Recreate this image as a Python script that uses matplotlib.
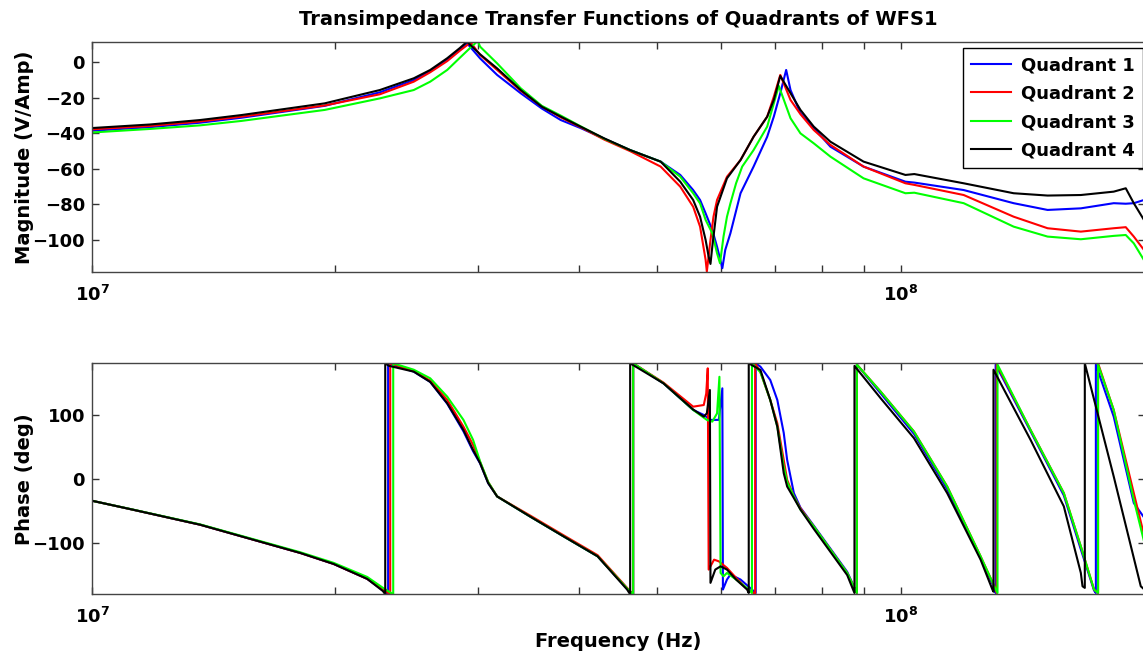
import numpy as np
import matplotlib
matplotlib.use("Agg")
import matplotlib.pyplot as plt
from matplotlib.ticker import FixedLocator, NullFormatter, FixedFormatter

plt.rcParams['font.family'] = ['DejaVu Sans']
plt.rcParams['font.weight'] = 'bold'
plt.rcParams['mathtext.fontset'] = 'dejavusans'

labels = ["Quadrant 1", "Quadrant 2", "Quadrant 3", "Quadrant 4"]
colors = ["#0000ff", "#ff0000", "#00ff00", "#000000"]

# ---------------- Magnitude data (frequency in MHz, magnitude in dB) -------------
mag_f_q1 = [10.0, 11.8, 13.6, 15.3, 19.4, 22.7, 25.0, 26.2, 27.5, 28.5, 29.1, 30.2, 31.7, 33.9, 36.0, 38.0,
            40.2, 43.0, 46.3, 50.5, 53.4, 55.4, 56.5, 57.4, 58.5, 59.3, 60.2, 60.7, 61.6, 63.4, 65.8, 68.4,
            69.7, 71.0, 72.2, 73.1, 75.2, 78.1, 81.9, 90.0, 101.4, 104.0, 119.7, 138.0, 152.0, 167.1,
            183.5, 189.9, 194.3, 200.0]
mag_q1 = [-38.5, -36.5, -34.0, -31.2, -24.5, -16.9, -10.0, -5.0, 1.5, 7.0, 10.7, 2.2, -7.1, -17.4, -26.0, -32.5,
          -37.0, -43.0, -49.4, -55.9, -63.4, -71.9, -77.5, -85.0, -94.4, -103.8, -115.9, -105.6, -96.2, -73.7,
          -58.7, -41.9, -30.6, -17.4, -4.3, -15.6, -28.7, -37.0, -47.5, -58.7, -67.2, -67.7, -71.9, -79.3,
          -83.1, -82.2, -79.3, -79.6, -79.3, -77.5]

mag_f_q2 = [10.0, 11.8, 13.6, 15.3, 19.4, 22.7, 25.0, 26.2, 27.5, 28.5, 29.4, 30.2, 31.7, 33.9, 36.0, 38.0,
            40.2, 43.0, 46.3, 50.5, 53.4, 55.4, 56.5, 57.4, 57.6, 58.2, 58.7, 59.3, 61.0, 63.4, 65.8, 68.4,
            69.7, 71.0, 73.1, 75.2, 78.1, 81.9, 90.0, 101.4, 104.0, 119.7, 138.0, 152.0, 167.1, 183.5,
            189.9, 194.3, 200.0]
mag_q2 = [-37.7, -35.8, -33.3, -30.6, -24.3, -18.0, -10.9, -5.6, 0.7, 6.5, 11.2, 4.1, -4.3, -16.0, -24.8, -31.0,
          -36.5, -43.5, -50.0, -58.7, -70.0, -81.3, -92.5, -111.2, -117.8, -100.0, -86.9, -77.5, -64.4, -55.0,
          -41.9, -30.6, -19.4, -7.1, -21.2, -29.2, -38.1, -46.5, -58.7, -68.1, -69.0, -74.7, -86.9, -93.4,
          -95.3, -93.4, -92.8, -98.1, -105.6]

mag_f_q3 = [10.0, 11.8, 13.6, 15.3, 19.4, 22.7, 25.0, 26.2, 27.5, 28.5, 29.5, 30.0, 30.2, 31.7, 33.9, 36.0,
            38.0, 40.2, 43.0, 46.3, 50.5, 53.4, 55.4, 56.5, 57.4, 58.5, 59.3, 59.8, 60.4, 61.0, 61.6, 62.6,
            63.7, 65.8, 68.4, 69.7, 70.7, 73.1, 75.2, 78.1, 81.9, 90.0, 101.4, 104.0, 119.7, 138.0, 152.0,
            167.1, 183.5, 189.9, 194.3, 200.0]
mag_q3 = [-39.5, -37.5, -35.5, -33.0, -26.8, -20.3, -15.6, -10.9, -4.3, 2.5, 9.0, 12.0, 8.8, -0.6, -14.6, -24.5,
          -30.0, -36.0, -43.0, -49.4, -55.9, -64.4, -73.7, -79.4, -88.7, -96.2, -107.5, -113.1, -98.1, -86.9,
          -79.4, -68.1, -58.7, -49.4, -36.2, -23.1, -13.3, -31.5, -40.0, -45.6, -53.1, -65.3, -73.7, -73.4,
          -79.3, -92.5, -98.1, -99.6, -97.7, -97.2, -101.9, -111.3]

mag_f_q4 = [10.0, 11.8, 13.6, 15.3, 19.4, 22.7, 25.0, 26.2, 27.5, 28.5, 29.1, 30.2, 31.7, 33.9, 36.0, 38.0,
            40.2, 43.0, 46.3, 50.5, 53.4, 55.4, 56.5, 57.4, 57.9, 58.2, 58.5, 59.3, 61.0, 63.4, 65.8, 68.4,
            69.7, 71.0, 73.1, 75.2, 78.1, 81.9, 90.0, 101.4, 104.0, 119.7, 138.0, 152.0, 167.1, 183.5,
            189.9, 194.3, 200.0]
mag_q4 = [-37.0, -35.0, -32.5, -29.7, -23.1, -15.6, -9.0, -4.3, 2.3, 8.0, 11.6, 4.5, -3.4, -15.6, -25.0, -30.6,
          -36.2, -42.8, -49.4, -55.9, -67.2, -77.5, -86.9, -100.0, -109.4, -113.5, -103.8, -81.3, -65.3, -55.0,
          -41.9, -30.6, -21.2, -7.7, -17.4, -26.8, -36.2, -44.7, -55.9, -63.4, -62.9, -68.1, -73.7, -75.0,
          -74.7, -72.8, -70.9, -79.3, -88.7]

# ---------------- Phase data (frequency in MHz, phase in degrees) ----------------
ph_f_q1 = [10.0, 11.24, 13.6, 18.1, 19.9, 21.9, 22.9, 23.24, 23.24, 25.0, 26.2, 27.5, 28.8, 29.6, 30.2, 30.9,
           31.7, 34.8, 38.3, 42.2, 45.9, 46.7, 46.7, 50.9, 55.4, 57.1, 58.2, 59.6, 60.2, 60.3, 61.0, 61.6,
           63.4, 65.5, 66.2, 66.2, 67.1, 69.0, 70.4, 71.7, 72.4, 73.8, 75.2, 78.1, 85.9, 88.3, 88.3, 94.5,
           103.9, 114.2, 125.6, 130.6, 131.1, 131.1, 144.8, 159.2, 167.1, 173.5, 174.4, 174.4, 183.5, 194.3,
           200.0]
ph_q1 = [-34.2, -48.2, -71.5, -115.6, -132.7, -156, -174, -180, 180, 167, 151, 117, 74, 43, 24, -6.7,
         -27.5, -58.6, -89.7, -120.8, -171, -180, 180, 148.8, 107.3, 99.5, 91.8, 91.8, 141, -172.6, -157, -149.3,
         -157, -172.6, -178, 180, 174.7, 154, 122.9, 71.5, 29.5, -22.3, -45, -73, -145, -178, 178, 133,
         70, -16, -124, -170, -178, 178, 74, -26, -110, -174, -178, 178, 96.9, -37.8,
         -60]

ph_f_q2 = [10.0, 11.24, 13.6, 18.1, 19.9, 21.9, 22.9, 23.38, 23.38, 25.0, 26.2, 27.5, 28.8, 29.6, 30.2, 30.9,
           31.7, 34.8, 38.3, 42.2, 45.9, 46.7, 46.7, 50.9, 55.4, 57.1, 57.5, 57.75, 57.9, 58.8, 59.6, 61.0,
           62.6, 64.7, 65.4, 66.1, 66.1, 67.1, 69.0, 70.4, 71.7, 72.4, 73.8, 75.2, 78.1, 85.9, 88.3, 88.3,
           94.5, 103.9, 114.2, 125.6, 130.6, 131.5, 131.5, 144.8, 159.2, 167.1, 173.5, 175.5, 175.5, 183.5,
           194.3, 200.0]
ph_q2 = [-34.2, -48.2, -71.5, -115.6, -132.7, -156, -173, -180, 180, 168, 153, 123, 81.3, 52.9, 26, -5,
         -27.5, -57, -88, -119, -170, -180, 180, 150, 112.4, 115, 133, 172.2, -141.5, -126, -128.6, -138.9,
         -154.4, -172.6, -175, -180, 180, 166, 122.9, 86.6, 29.5, -1.6, -27.5, -46, -74.2, -146.7, -178, 178,
         135.8, 73.6, -12, -120.8, -167.5, -178, 178, 76.2, -22.3, -105.3, -172.6, -178, 180, 107.3,
         -22.3, -87]

ph_f_q3 = [10.0, 11.24, 13.6, 18.1, 19.9, 21.9, 22.9, 23.58, 23.58, 25.0, 26.2, 27.5, 28.8, 29.6, 30.2, 30.9,
           31.7, 34.8, 38.3, 42.2, 45.9, 46.7, 46.7, 50.9, 55.4, 57.6, 58.5, 59.3, 59.7, 59.9, 60.4, 61.0,
           62.6, 64.9, 65.5, 65.5, 67.1, 69.0, 70.4, 71.7, 72.4, 73.8, 75.2, 78.1, 85.9, 88.3, 88.3, 94.5,
           103.9, 114.2, 125.6, 130.6, 131.8, 131.8, 144.8, 159.2, 167.1, 173.5, 175.5, 175.5, 183.5, 194.3,
           200.0]
ph_q3 = [-34.2, -48, -71, -114.5, -131, -153, -170, -180, 180, 170, 156.6, 128, 91.8, 60.7, 27, -5,
         -27.5, -58.6, -89.7, -120.8, -171, -180, 180, 149, 107.3, 91.8, 89.1, 102, 159, -146.7, -152, -146.7,
         -157, -172.6, -178, 180, 166, 122.9, 81.3, 19.1, -5, -27.5, -48, -74.2, -146.7, -178, 178, 135.8,
         73.6, -12, -120.8, -167.5, -178, 178, 76.2, -22.3, -105.3, -172.6, -178, 178, 107.3, -32.7,
         -97]

ph_f_q4 = [10.0, 11.24, 13.6, 18.1, 19.9, 21.9, 22.9, 23.05, 23.05, 23.3, 25.0, 26.2, 27.5, 28.8, 29.6, 30.2,
           30.9, 31.7, 34.8, 38.3, 42.2, 45.9, 46.3, 46.3, 50.9, 55.4, 57.1, 57.6, 58.1, 58.2, 59.0, 59.9,
           61.0, 62.6, 64.6, 64.9, 64.9, 67.1, 69.0, 70.4, 71.7, 72.4, 73.8, 75.2, 78.1, 85.9, 87.7, 87.7,
           94.5, 103.9, 114.2, 125.6, 129.9, 130.3, 130.3, 144.8, 159.2, 167.1, 167.9, 169.0, 169.0, 183.5,
           198.2, 200.0]
ph_q4 = [-34.2, -48.2, -71.5, -115.6, -132.7, -156, -175, -180, 180, 176, 167, 151, 117.7, 76, 45, 24.4,
         -6.7, -27.5, -58.6, -89.7, -120.8, -172.6, -180, 180, 148.8, 108, 96.9, 102, 138.4, -162.2, -141.5, -136.4,
         -141.5, -157, -172.6, -178, 180, 169.5, 122.9, 81.3, 8.8, -12, -30, -48, -78, -150, -178, 176,
         125.5, 63.3, -22.3, -126, -172.6, -176, 170, 60.7, -43, -146.7, -167.5, -170, 180, 3.6,
         -167.5, -172]

mag_f = [mag_f_q1, mag_f_q2, mag_f_q3, mag_f_q4]
mag = [mag_q1, mag_q2, mag_q3, mag_q4]
ph_f = [ph_f_q1, ph_f_q2, ph_f_q3, ph_f_q4]
ph = [ph_q1, ph_q2, ph_q3, ph_q4]

W, H = 1143, 660
fig = plt.figure(figsize=(W / 100, H / 100), dpi=100)

left = 92 / W
width = 1053 / W
ax1 = fig.add_axes([left, 1 - 272.3 / H, width, (272.3 - 41.7) / H])
ax2 = fig.add_axes([left, 1 - 594.3 / H, width, (594.3 - 363.3) / H])

for f, m, c, lab in zip(mag_f, mag, colors, labels):
    ax1.plot(np.array(f) * 1e6, m, color=c, lw=1.5, label=lab)
for f, p, c in zip(ph_f, ph, colors):
    ax2.plot(np.array(f) * 1e6, p, color=c, lw=1.5)

major = [1e7, 1e8]
minor = [k * 1e7 for k in range(2, 10)] + [2e8]
for ax in (ax1, ax2):
    ax.set_xscale('log')
    ax.set_xlim(1e7, 2.006e8)
    ax.xaxis.set_major_locator(FixedLocator(major))
    ax.xaxis.set_major_formatter(FixedFormatter([r'$\mathbf{10^{7}}$', r'$\mathbf{10^{8}}$']))
    ax.xaxis.set_minor_locator(FixedLocator(minor))
    ax.xaxis.set_minor_formatter(NullFormatter())
    ax.tick_params(which='both', direction='in', top=True, right=True, length=5, width=1,
                   color='#333333', labelsize=13)
    ax.tick_params(axis='x', which='major', pad=9)
    ax.tick_params(axis='y', pad=5)
    for s in ax.spines.values():
        s.set_color('#444444')
        s.set_linewidth(1.0)
    for t in ax.get_yticklabels() + ax.get_xticklabels():
        t.set_fontweight('bold')

ax1.set_ylim(-118.2, 11.6)
ax1.set_yticks([-100, -80, -60, -40, -20, 0])
ax2.set_ylim(-180, 180)
ax2.set_yticks([-100, 0, 100])

ax1.set_ylabel("Magnitude (V/Amp)", fontsize=14, fontweight='bold', labelpad=-1)
ax2.set_ylabel("Phase (deg)", fontsize=14, fontweight='bold', labelpad=-1)
ax2.set_xlabel("Frequency (Hz)", fontsize=14, fontweight='bold', labelpad=4)
ax1.set_title("Transimpedance Transfer Functions of Quadrants of WFS1",
              fontsize=14, fontweight='bold', pad=12)

leg = ax1.legend(loc='upper right', bbox_to_anchor=(1143 / W, 1 - 48 / H),
                 bbox_transform=fig.transFigure, borderaxespad=0, fontsize=13,
                 handlelength=2.2, handletextpad=0.55, labelspacing=0.58, borderpad=0.45,
                 fancybox=False, framealpha=1, edgecolor='black')
leg.get_frame().set_linewidth(1.0)
for t in leg.get_texts():
    t.set_fontweight('bold')

fig.savefig("out.png", dpi=100)
